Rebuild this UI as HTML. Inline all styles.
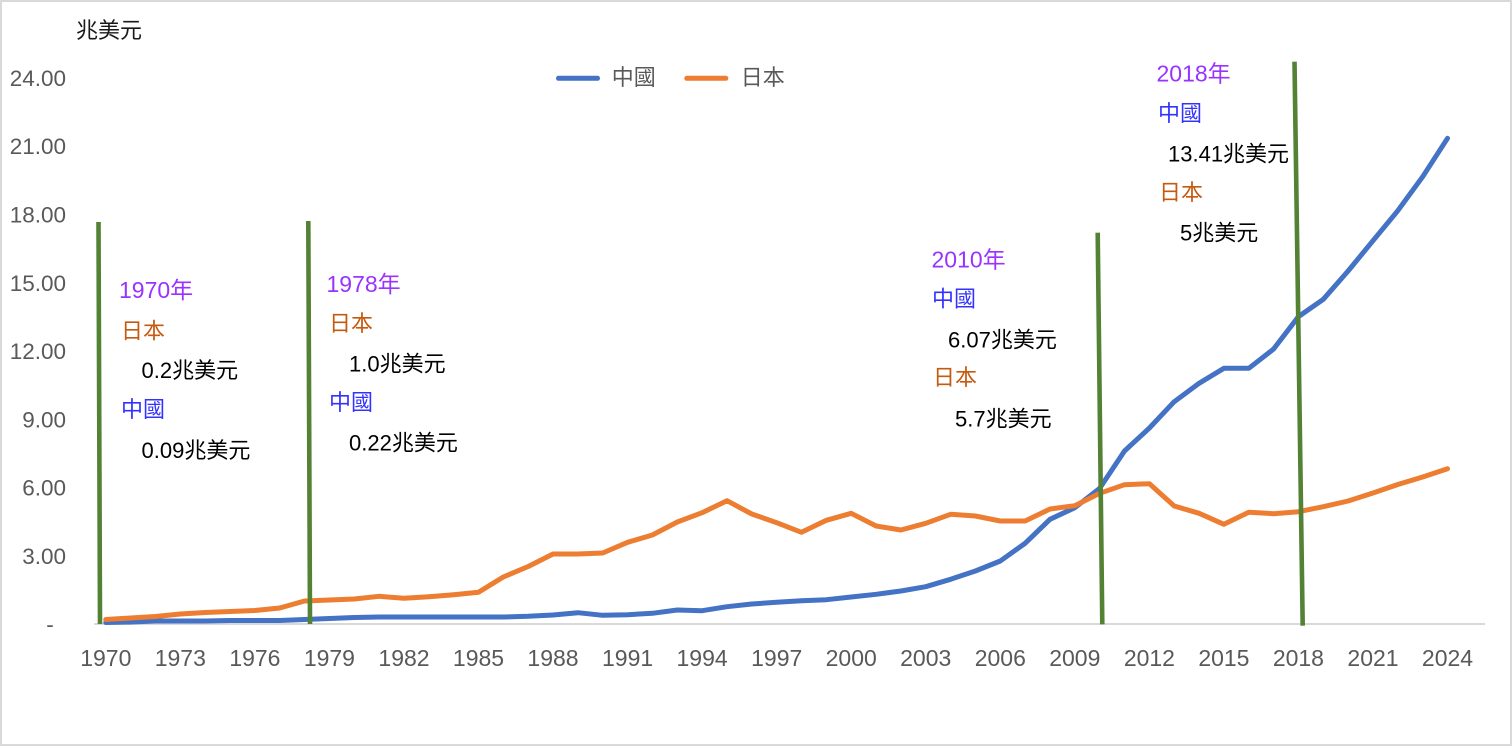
<!DOCTYPE html>
<html>
<head>
<meta charset="utf-8">
<style>
html,body{margin:0;padding:0;background:#fff;}
svg{display:block;}
text{font-family:"Liberation Sans","Noto Sans CJK TC",sans-serif;}
</style>
</head>
<body>
<svg width="1512" height="746" viewBox="0 0 1512 746" xmlns="http://www.w3.org/2000/svg">
<rect x="0" y="0" width="1512" height="746" fill="#fff"/>
<rect x="1" y="1" width="1510" height="744" fill="none" stroke="#d9d9d9" stroke-width="2"/>

<!-- unit -->
<text x="76" y="38" font-size="22" fill="#1a1a1a">兆美元</text>

<!-- y labels -->
<g font-size="22.5" fill="#595959" text-anchor="end">
<text x="66" y="86">24.00</text>
<text x="66" y="154">21.00</text>
<text x="66" y="222.5">18.00</text>
<text x="66" y="290.8">15.00</text>
<text x="66" y="359">12.00</text>
<text x="66" y="427.3">9.00</text>
<text x="66" y="495.5">6.00</text>
<text x="66" y="563.8">3.00</text>
</g>
<text x="50" y="632" font-size="22.5" fill="#595959" text-anchor="middle">-</text>

<!-- axis -->
<line x1="94" y1="624" x2="1485" y2="624" stroke="#d9d9d9" stroke-width="2"/>

<!-- x labels -->
<g font-size="23" fill="#595959" text-anchor="middle">
<text x="105.8" y="666">1970</text>
<text x="180.3" y="666">1973</text>
<text x="254.9" y="666">1976</text>
<text x="329.4" y="666">1979</text>
<text x="404.0" y="666">1982</text>
<text x="478.5" y="666">1985</text>
<text x="553.0" y="666">1988</text>
<text x="627.6" y="666">1991</text>
<text x="702.1" y="666">1994</text>
<text x="776.7" y="666">1997</text>
<text x="851.2" y="666">2000</text>
<text x="925.7" y="666">2003</text>
<text x="1000.3" y="666">2006</text>
<text x="1074.8" y="666">2009</text>
<text x="1149.4" y="666">2012</text>
<text x="1223.9" y="666">2015</text>
<text x="1298.4" y="666">2018</text>
<text x="1373.0" y="666">2021</text>
<text x="1447.5" y="666">2024</text>
</g>

<!-- China -->
<polyline fill="none" stroke="#4472c4" stroke-width="5" stroke-linejoin="round" stroke-linecap="round" points="
105.8,622.5 130.6,622 155.5,621 180.3,621 205.2,621 230.0,620.5 254.9,620.5 279.7,620.5 304.6,619.5 329.4,618.5
354.3,617.5 379.1,617 404.0,617 428.8,617 453.7,617 478.5,617 503.3,617 528.2,616.3 553.0,615 577.9,612.7
602.7,615.3 627.6,614.7 652.4,613.3 677.3,610 702.1,610.7 727.0,606.7 751.8,604 776.7,602.3 801.5,600.7 826.4,599.7
851.2,597 876.1,594.3 900.9,591 925.7,586.7 950.6,579.3 975.4,571 1000.3,561 1025.1,543.3 1050.0,519.3 1074.8,507.7
1099.7,488.3 1124.5,451 1149.4,428 1174.2,401.7 1199.1,383.3 1223.9,368.3 1248.8,368.3 1273.6,349 1298.4,316.7 1323.3,299.3
1348.1,271 1373.0,240.7 1397.8,210.7 1422.7,176.7 1447.5,138.3"/>

<!-- Japan -->
<polyline fill="none" stroke="#ed7d31" stroke-width="5" stroke-linejoin="round" stroke-linecap="round" points="
105.8,619.5 130.6,618 155.5,616.5 180.3,614 205.2,612.5 230.0,611.5 254.9,610.5 279.7,608 304.6,601 329.4,600
354.3,599 379.1,596.3 404.0,598.3 428.8,596.7 453.7,594.7 478.5,592.3 503.3,577 528.2,566.5 553.0,554 577.9,554
602.7,553 627.6,542.3 652.4,535 677.3,522 702.1,512.7 727.0,500.7 751.8,514 776.7,522.7 801.5,532.3 826.4,520.3
851.2,513.3 876.1,526 900.9,530 925.7,523.3 950.6,514.3 975.4,516 1000.3,521 1025.1,521 1050.0,509 1074.8,505.7
1099.7,493.3 1124.5,484.7 1149.4,483.7 1174.2,506 1199.1,513.3 1223.9,524.3 1248.8,512.3 1273.6,513.7 1298.4,511.7 1323.3,506.7
1348.1,501 1373.0,493 1397.8,484.5 1422.7,477 1447.5,468.7"/>

<!-- green marker lines -->
<g stroke="#548235" stroke-width="4.6">
<line x1="98.5" y1="222" x2="100" y2="624"/>
<line x1="308.3" y1="221" x2="310" y2="624"/>
<line x1="1097.7" y1="232.7" x2="1102.3" y2="624.3"/>
<line x1="1294.5" y1="61.7" x2="1302.7" y2="625.7"/>
</g>

<!-- legend -->
<line x1="558.5" y1="78.3" x2="597.5" y2="78.3" stroke="#4472c4" stroke-width="5" stroke-linecap="round"/>
<text x="611.7" y="85" font-size="22" fill="#595959">中國</text>
<line x1="686.8" y1="78.3" x2="725.8" y2="78.3" stroke="#ed7d31" stroke-width="5" stroke-linecap="round"/>
<text x="740.7" y="85" font-size="22" fill="#595959">日本</text>

<!-- annotation 1970 -->
<text x="119" y="298" font-size="23" fill="#9933ff">1970年</text>
<text x="121" y="338.5" font-size="22" fill="#c55a11">日本</text>
<text x="141.5" y="378" font-size="22" fill="#000">0.2兆美元</text>
<text x="121" y="417" font-size="22" fill="#3333ff">中國</text>
<text x="141.5" y="458" font-size="22" fill="#000">0.09兆美元</text>

<!-- annotation 1978 -->
<text x="326.5" y="292" font-size="23" fill="#9933ff">1978年</text>
<text x="329" y="331" font-size="22" fill="#c55a11">日本</text>
<text x="349" y="371.5" font-size="22" fill="#000">1.0兆美元</text>
<text x="329" y="410" font-size="22" fill="#3333ff">中國</text>
<text x="349" y="450.5" font-size="22" fill="#000">0.22兆美元</text>

<!-- annotation 2010 -->
<text x="931.5" y="267.7" font-size="23" fill="#9933ff">2010年</text>
<text x="932" y="306.5" font-size="22" fill="#3333ff">中國</text>
<text x="948" y="347.5" font-size="22" fill="#000">6.07兆美元</text>
<text x="933" y="385" font-size="22" fill="#c55a11">日本</text>
<text x="955" y="426.5" font-size="22" fill="#000">5.7兆美元</text>

<!-- annotation 2018 -->
<text x="1156.5" y="81.7" font-size="23" fill="#9933ff">2018年</text>
<text x="1158" y="121" font-size="22" fill="#3333ff">中國</text>
<text x="1168" y="161.5" font-size="22" fill="#000">13.41兆美元</text>
<text x="1159" y="200" font-size="22" fill="#c55a11">日本</text>
<text x="1180" y="240.5" font-size="22" fill="#000">5兆美元</text>
</svg>
</body>
</html>
